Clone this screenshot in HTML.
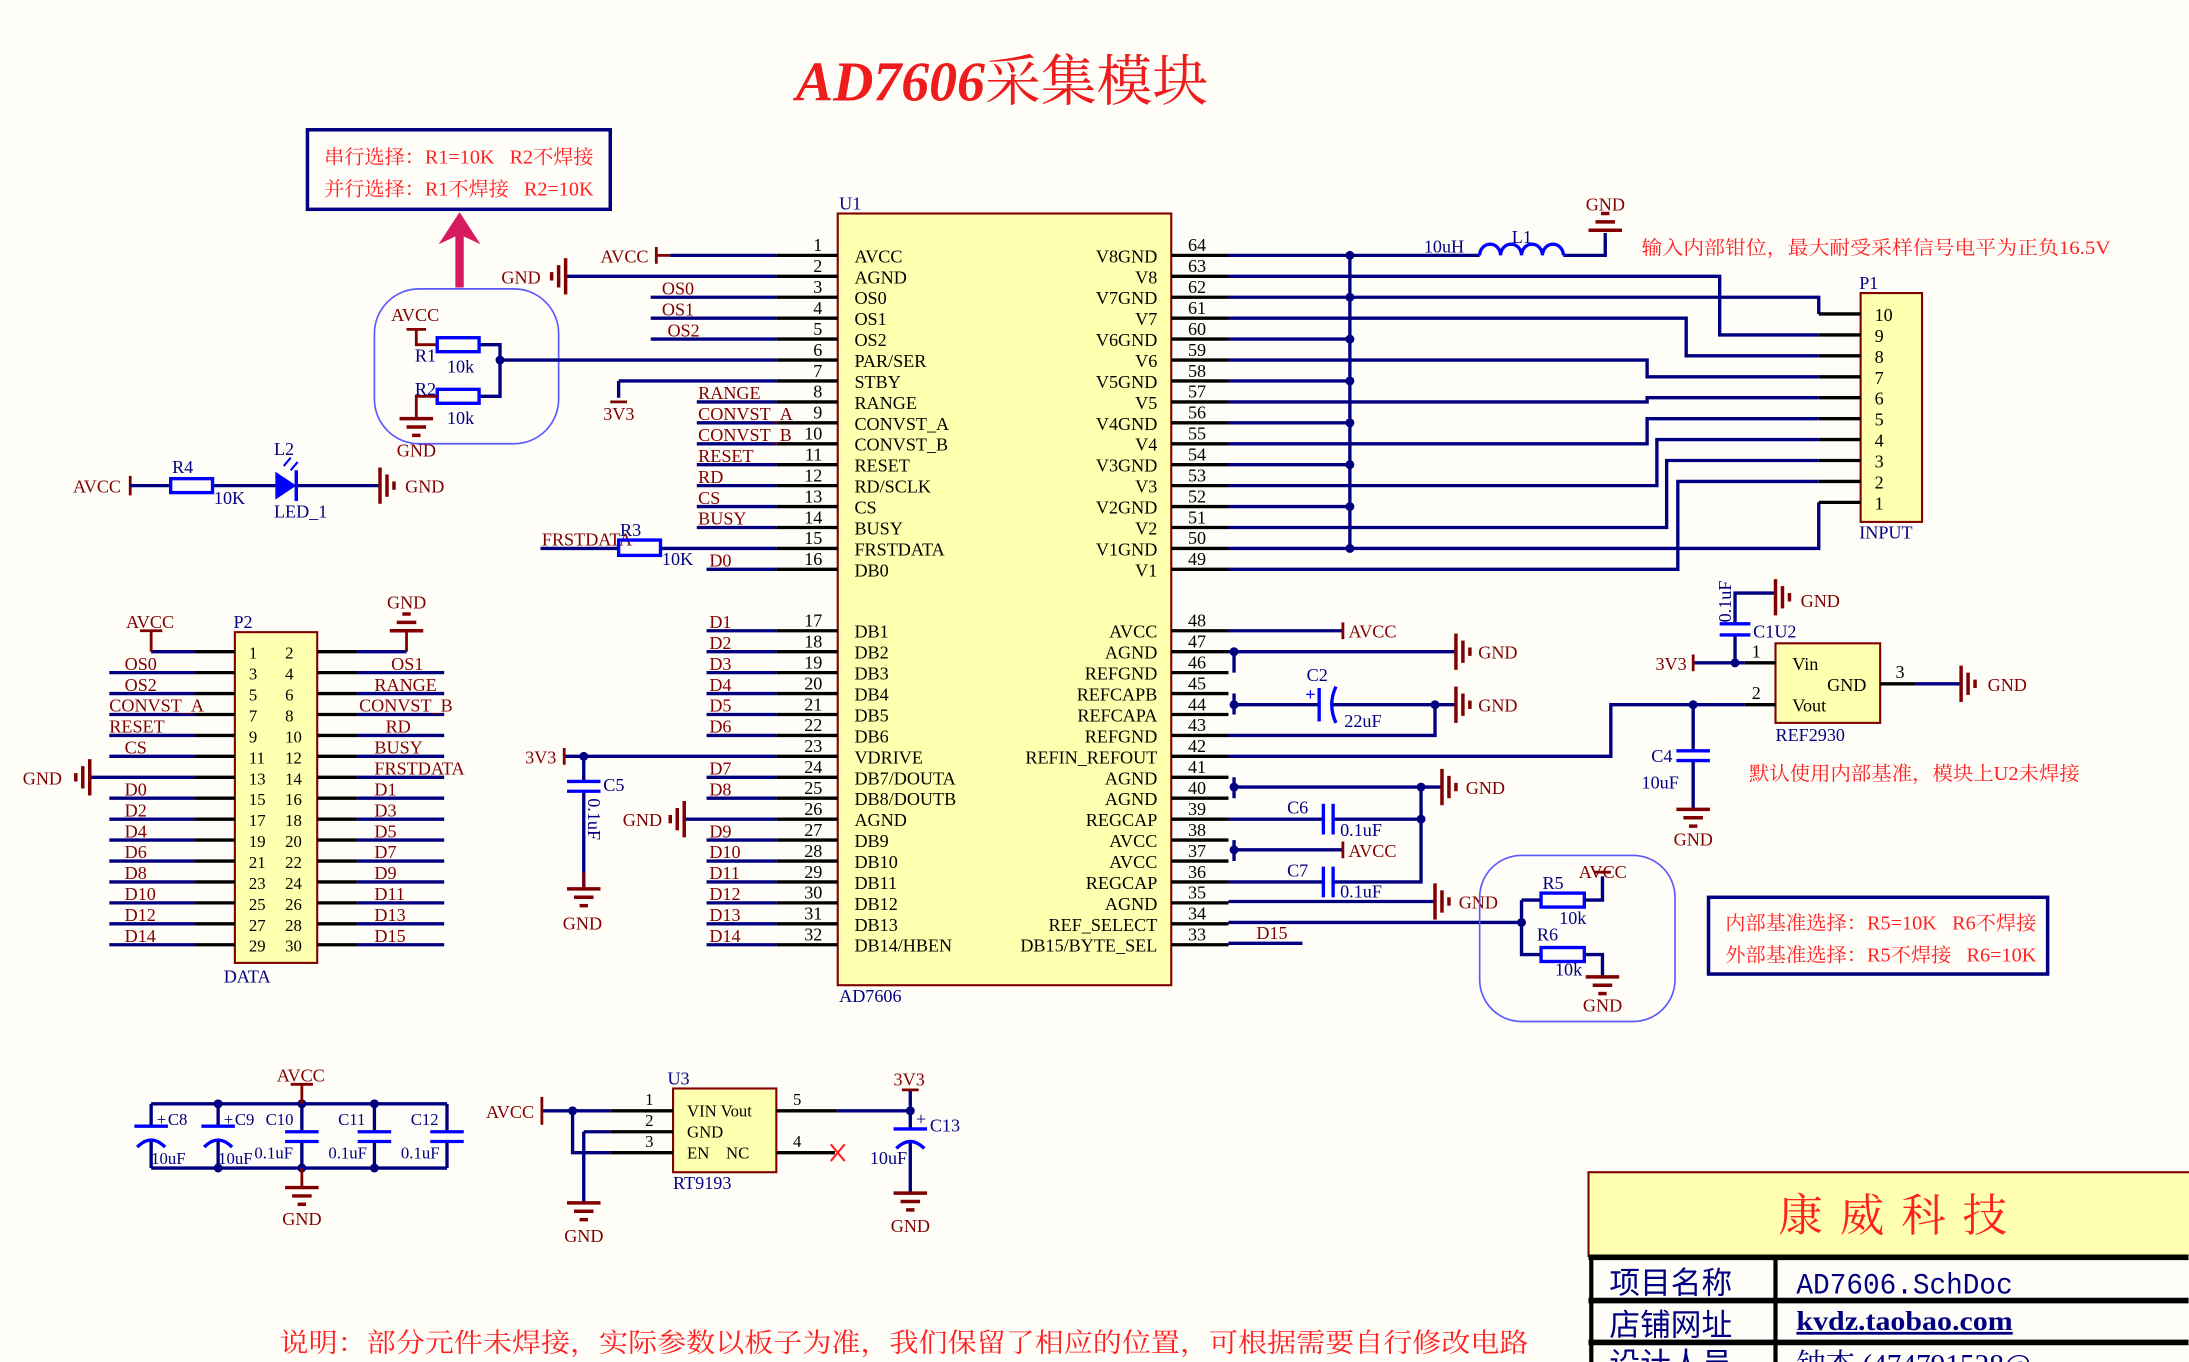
<!DOCTYPE html>
<html><head><meta charset="utf-8"><style>
html,body{margin:0;padding:0;background:#fffdf7;}
svg{display:block}
text{font-family:"Liberation Serif","Noto Serif CJK SC",serif;}
.w{stroke:#000080;stroke-width:2.4;fill:none}
.p{stroke:#000;stroke-width:2.4;fill:none}
.r{stroke:#800000;stroke-width:2;fill:none}
.b{stroke:#0000ff;stroke-width:2.4;fill:none}
.t{font-size:13px;fill:#000}
.n{font-size:13px;fill:#800000}
.c{font-size:13px;fill:#000080}
.red{font-family:"Liberation Serif","Noto Serif CJK SC",serif;fill:#ff2020}
</style></head><body>
<svg width="2189" height="1362" viewBox="0 0 1568 976" xmlns="http://www.w3.org/2000/svg">
<defs>
<g id="gD" stroke="#800000" stroke-width="2.5"><line x1="-12" y1="0" x2="12" y2="0"/><line x1="-7" y1="6" x2="7" y2="6"/><line x1="-3" y1="12" x2="3" y2="12"/></g>
<g id="gU" stroke="#800000" stroke-width="2.5"><line x1="-12" y1="0" x2="12" y2="0"/><line x1="-7" y1="-6" x2="7" y2="-6"/><line x1="-3" y1="-12" x2="3" y2="-12"/></g>
<g id="gL" stroke="#800000" stroke-width="2.5"><line x1="0" y1="-13" x2="0" y2="13"/><line x1="-5" y1="-8" x2="-5" y2="8"/><line x1="-10" y1="-3" x2="-10" y2="3"/></g>
<g id="gR" stroke="#800000" stroke-width="2.5"><line x1="0" y1="-13" x2="0" y2="13"/><line x1="5" y1="-8" x2="5" y2="8"/><line x1="10" y1="-3" x2="10" y2="3"/></g>
<circle id="j" r="3.2" fill="#000080"/>
</defs>

<!-- Title -->
<text x="570" y="72" style="font-size:40px;fill:#ee1c1c;font-weight:bold;font-style:italic">AD7606<tspan style="font-weight:normal;font-style:normal;font-family:'Noto Serif CJK SC',serif">采集模块</tspan></text>

<!-- top box -->
<rect x="220" y="93" width="217" height="57" fill="none" stroke="#000080" stroke-width="2.5"/>
<text x="232" y="117" class="red" style="font-size:14px" textLength="193" lengthAdjust="spacingAndGlyphs">串行选择：R1=10K&#160;&#160;&#160;R2不焊接</text>
<text x="232" y="140" class="red" style="font-size:14px" textLength="193" lengthAdjust="spacingAndGlyphs">并行选择：R1不焊接&#160;&#160;&#160;R2=10K</text>
<line x1="329" y1="206" x2="329" y2="168" stroke="#d81b60" stroke-width="6"/>
<polygon points="314,175 329,152 344,175 329,168" fill="#d81b60"/>

<!-- R1 R2 group -->
<rect x="268" y="207" width="132" height="111" rx="32" fill="none" stroke="#5a5aff" stroke-width="1.2"/>
<text x="280" y="230" class="n">AVCC</text>
<line x1="291" y1="236" x2="305" y2="236" class="r" stroke-width="3"/>
<path class="r" d="M298 236V247H313"/>
<path class="w" d="M343 247H358V284H343M358 258H556"/>
<rect x="313" y="242" width="30" height="10" class="b" fill="none"/>
<rect x="313" y="279" width="30" height="10" class="b" fill="none"/>
<path class="r" d="M313 284H298V300"/>
<use href="#gD" x="298" y="300"/>
<use href="#j" x="358" y="258"/>
<text x="297" y="259" class="c">R1</text><text x="320" y="267" class="c">10k</text>
<text x="297" y="283" class="c">R2</text><text x="320" y="304" class="c">10k</text>
<text x="284" y="327" class="n">GND</text>

<!-- LED row -->
<text x="52" y="353" class="n">AVCC</text>
<line x1="93" y1="341" x2="93" y2="355" class="r" stroke-width="2.5"/>
<path class="w" d="M93 348H122M152 348H197M212 348H272"/>
<rect x="122" y="343" width="30" height="10" class="b"/>
<polygon points="197,338 197,358 212,348" fill="#0000ff"/>
<line x1="212" y1="337" x2="212" y2="359" stroke="#0000ff" stroke-width="2.5"/>
<path d="M203 334l5-6M208 337l5-6" stroke="#0000ff" stroke-width="1.5"/>
<use href="#gR" x="272" y="348"/>
<text x="290" y="353" class="n">GND</text>
<text x="123" y="339" class="c">R4</text><text x="153" y="361" class="c">10K</text>
<text x="196" y="326" class="c">L2</text><text x="196" y="371" class="c">LED_1</text>

<!-- U1 -->
<rect x="600" y="153" width="239" height="553" fill="#ffffb0" stroke="#800000" stroke-width="1.5"/>
<text x="601" y="150" class="c">U1</text>
<text x="601" y="718" class="c">AD7606</text>
<path class="p" d="M556 183H600M556 198H600M556 213H600M556 228H600M556 243H600M556 258H600M556 273H600M556 288H600M556 303H600M556 318H600M556 333H600M556 348H600M556 363H600M556 378H600M556 393H600M556 408H600M556 452H600M556 467H600M556 482H600M556 497H600M556 512H600M556 527H600M556 542H600M556 557H600M556 572H600M556 587H600M556 602H600M556 617H600M556 632H600M556 647H600M556 662H600M556 677H600"/>
<path class="p" d="M839 183H880M839 198H880M839 213H880M839 228H880M839 243H880M839 258H880M839 273H880M839 288H880M839 303H880M839 318H880M839 333H880M839 348H880M839 363H880M839 378H880M839 393H880M839 408H880M839 452H880M839 467H880M839 482H880M839 497H880M839 512H880M839 527H880M839 542H880M839 557H880M839 572H880M839 587H880M839 602H880M839 617H880M839 632H880M839 647H880M839 662H880M839 677H880"/>
<g class="t" text-anchor="end">
<text x="589" y="180">1</text><text x="589" y="195">2</text><text x="589" y="210">3</text><text x="589" y="225">4</text><text x="589" y="240">5</text><text x="589" y="255">6</text><text x="589" y="270">7</text><text x="589" y="285">8</text><text x="589" y="300">9</text><text x="589" y="315">10</text><text x="589" y="330">11</text><text x="589" y="345">12</text><text x="589" y="360">13</text><text x="589" y="375">14</text><text x="589" y="390">15</text><text x="589" y="405">16</text>
<text x="589" y="449">17</text><text x="589" y="464">18</text><text x="589" y="479">19</text><text x="589" y="494">20</text><text x="589" y="509">21</text><text x="589" y="524">22</text><text x="589" y="539">23</text><text x="589" y="554">24</text><text x="589" y="569">25</text><text x="589" y="584">26</text><text x="589" y="599">27</text><text x="589" y="614">28</text><text x="589" y="629">29</text><text x="589" y="644">30</text><text x="589" y="659">31</text><text x="589" y="674">32</text>
</g>
<g class="t">
<text x="851" y="180">64</text><text x="851" y="195">63</text><text x="851" y="210">62</text><text x="851" y="225">61</text><text x="851" y="240">60</text><text x="851" y="255">59</text><text x="851" y="270">58</text><text x="851" y="285">57</text><text x="851" y="300">56</text><text x="851" y="315">55</text><text x="851" y="330">54</text><text x="851" y="345">53</text><text x="851" y="360">52</text><text x="851" y="375">51</text><text x="851" y="390">50</text><text x="851" y="405">49</text>
<text x="851" y="449">48</text><text x="851" y="464">47</text><text x="851" y="479">46</text><text x="851" y="494">45</text><text x="851" y="509">44</text><text x="851" y="524">43</text><text x="851" y="539">42</text><text x="851" y="554">41</text><text x="851" y="569">40</text><text x="851" y="584">39</text><text x="851" y="599">38</text><text x="851" y="614">37</text><text x="851" y="629">36</text><text x="851" y="644">35</text><text x="851" y="659">34</text><text x="851" y="674">33</text>
</g>
<g class="t">
<text x="612" y="188">AVCC</text><text x="612" y="203">AGND</text><text x="612" y="218">OS0</text><text x="612" y="233">OS1</text><text x="612" y="248">OS2</text><text x="612" y="263">PAR/SER</text><text x="612" y="278">STBY</text><text x="612" y="293">RANGE</text><text x="612" y="308">CONVST_A</text><text x="612" y="323">CONVST_B</text><text x="612" y="338">RESET</text><text x="612" y="353">RD/SCLK</text><text x="612" y="368">CS</text><text x="612" y="383">BUSY</text><text x="612" y="398">FRSTDATA</text><text x="612" y="413">DB0</text>
<text x="612" y="457">DB1</text><text x="612" y="472">DB2</text><text x="612" y="487">DB3</text><text x="612" y="502">DB4</text><text x="612" y="517">DB5</text><text x="612" y="532">DB6</text><text x="612" y="547">VDRIVE</text><text x="612" y="562">DB7/DOUTA</text><text x="612" y="577">DB8/DOUTB</text><text x="612" y="592">AGND</text><text x="612" y="607">DB9</text><text x="612" y="622">DB10</text><text x="612" y="637">DB11</text><text x="612" y="652">DB12</text><text x="612" y="667">DB13</text><text x="612" y="682">DB14/HBEN</text>
</g>
<g class="t" text-anchor="end">
<text x="829" y="188">V8GND</text><text x="829" y="203">V8</text><text x="829" y="218">V7GND</text><text x="829" y="233">V7</text><text x="829" y="248">V6GND</text><text x="829" y="263">V6</text><text x="829" y="278">V5GND</text><text x="829" y="293">V5</text><text x="829" y="308">V4GND</text><text x="829" y="323">V4</text><text x="829" y="338">V3GND</text><text x="829" y="353">V3</text><text x="829" y="368">V2GND</text><text x="829" y="383">V2</text><text x="829" y="398">V1GND</text><text x="829" y="413">V1</text>
<text x="829" y="457">AVCC</text><text x="829" y="472">AGND</text><text x="829" y="487">REFGND</text><text x="829" y="502">REFCAPB</text><text x="829" y="517">REFCAPA</text><text x="829" y="532">REFGND</text><text x="829" y="547">REFIN_REFOUT</text><text x="829" y="562">AGND</text><text x="829" y="577">AGND</text><text x="829" y="592">REGCAP</text><text x="829" y="607">AVCC</text><text x="829" y="622">AVCC</text><text x="829" y="637">REGCAP</text><text x="829" y="652">AGND</text><text x="829" y="667">REF_SELECT</text><text x="829" y="682">DB15/BYTE_SEL</text>
</g>

<!-- U1 left wiring -->
<path class="w" d="M480 183H556M405 198H556M466 213H556M466 228H556M466 243H556M443 273H556V273M443 273V285M499 288H556M499 303H556M499 318H556M499 333H556M499 348H556M499 363H556M499 378H556M387 393H443M473 393H556M506 408H556
M506 452H556M506 467H556M506 482H556M506 497H556M506 512H556M506 527H556M404 542H556M506 557H556M506 572H556M490 587H556M506 602H556M506 617H556M506 632H556M506 647H556M506 662H556M506 677H556"/>
<line x1="470" y1="177" x2="470" y2="189" class="r" stroke-width="2.5"/><line x1="470" y1="183" x2="480" y2="183" class="r" stroke-width="2.5"/>
<text x="430" y="188" class="n">AVCC</text>
<use href="#gL" x="405" y="198"/><text x="359" y="203" class="n">GND</text>
<line x1="437" y1="288" x2="449" y2="288" class="r" stroke-width="3"/>
<text x="432" y="301" class="n">3V3</text>
<g class="n">
<text x="474" y="211">OS0</text><text x="474" y="226">OS1</text><text x="478" y="241">OS2</text>
<text x="500" y="286">RANGE</text><text x="500" y="301">CONVST_A</text><text x="500" y="316">CONVST_B</text><text x="500" y="331">RESET</text><text x="500" y="346">RD</text><text x="500" y="361">CS</text><text x="500" y="376">BUSY</text>
<text x="388" y="391">FRSTDATA</text><text x="508" y="406">D0</text>
<text x="508" y="450">D1</text><text x="508" y="465">D2</text><text x="508" y="480">D3</text><text x="508" y="495">D4</text><text x="508" y="510">D5</text><text x="508" y="525">D6</text>
<text x="508" y="555">D7</text><text x="508" y="570">D8</text><text x="508" y="600">D9</text><text x="508" y="615">D10</text><text x="508" y="630">D11</text><text x="508" y="645">D12</text><text x="508" y="660">D13</text><text x="508" y="675">D14</text>
</g>
<rect x="443" y="387" width="30" height="11" class="b"/>
<text x="444" y="384" class="c">R3</text><text x="474" y="405" class="c">10K</text>
<!-- VDRIVE -->
<line x1="404" y1="536" x2="404" y2="548" class="r" stroke-width="2.5"/>
<text x="376" y="547" class="n">3V3</text>
<use href="#j" x="418" y="542"/>
<path class="w" d="M418 542V559M418 568V637"/>
<line x1="406" y1="560" x2="430" y2="560" class="b" stroke-width="3"/><line x1="406" y1="567" x2="430" y2="567" class="b" stroke-width="3"/>
<line x1="418" y1="625" x2="418" y2="637" class="r"/>
<use href="#gD" x="418" y="637"/>
<text x="432" y="567" class="c">C5</text>
<text transform="translate(421,572) rotate(90)" class="c">0.1uF</text>
<text x="403" y="666" class="n">GND</text>
<use href="#gL" x="490" y="587"/><text x="446" y="592" class="n">GND</text>

<!-- U1 right wiring top -->
<path class="w" d="M880 183H1060M1120 183H1150V167M967 183V393M880 243H967M880 273H967M880 303H967M880 333H967M880 363H967
M880 198H1232V240H1303M880 213H1303V225M880 228H1208V255H1303M880 258H1180V270H1303M880 288H1180V285H1303M880 318H1180V300H1303M880 348H1187V315H1303M880 378H1194V330H1303M880 393H1303V360M880 408H1202V345H1303"/>
<g><use href="#j" x="967" y="183"/><use href="#j" x="967" y="213"/><use href="#j" x="967" y="243"/><use href="#j" x="967" y="273"/><use href="#j" x="967" y="303"/><use href="#j" x="967" y="333"/><use href="#j" x="967" y="363"/><use href="#j" x="967" y="393"/></g>
<path d="M1060 183a7.5 8 0 0 1 15 0a7.5 8 0 0 1 15 0a7.5 8 0 0 1 15 0a7.5 8 0 0 1 15 0" class="b"/>
<use href="#gU" x="1150" y="165"/>
<text x="1136" y="151" class="n">GND</text>
<text x="1020" y="181" class="c">10uH</text><text x="1083" y="174" class="c">L1</text>
<text x="1176" y="182" class="red" style="font-size:13.5px" textLength="336" lengthAdjust="spacingAndGlyphs">输入内部钳位，最大耐受采样信号电平为正负16.5V</text>
<!-- P1 -->
<rect x="1333" y="210" width="44" height="164" fill="#ffffb0" stroke="#800000" stroke-width="1.5"/>
<path class="p" d="M1303 225H1333M1303 240H1333M1303 255H1333M1303 270H1333M1303 285H1333M1303 300H1333M1303 315H1333M1303 330H1333M1303 345H1333M1303 360H1333"/>
<g class="t"><text x="1343" y="230">10</text><text x="1343" y="245">9</text><text x="1343" y="260">8</text><text x="1343" y="275">7</text><text x="1343" y="290">6</text><text x="1343" y="305">5</text><text x="1343" y="320">4</text><text x="1343" y="335">3</text><text x="1343" y="350">2</text><text x="1343" y="365">1</text></g>
<text x="1332" y="207" class="c">P1</text><text x="1332" y="386" class="c">INPUT</text>

<!-- U1 right wiring bottom -->
<path class="w" d="M880 452H962M880 467H1043M884 467V482M884 497V512M884 505H945M953 505H1043M1028 505V527H880M880 542H1154V505H1250M1213 505V537M1213 545V580
M884 557V572M884 564H1033M880 587H947M955 587H1018M884 602V617M884 609H962M880 632H947M955 632H1018V564M880 646H1028M880 661H1090M1090 645V684H1104M1090 645H1104M880 676H933"/>
<line x1="962" y1="446" x2="962" y2="458" class="r" stroke-width="2.5"/><text x="966" y="457" class="n">AVCC</text>
<line x1="962" y1="603" x2="962" y2="615" class="r" stroke-width="2.5"/><text x="966" y="614" class="n">AVCC</text>
<use href="#gR" x="1043" y="467"/><text x="1059" y="472" class="n">GND</text>
<use href="#gR" x="1043" y="505"/><text x="1059" y="510" class="n">GND</text>
<use href="#gR" x="1033" y="564"/><text x="1050" y="569" class="n">GND</text>
<use href="#gR" x="1028" y="646"/><text x="1045" y="651" class="n">GND</text>
<g><use href="#j" x="884" y="467"/><use href="#j" x="884" y="505"/><use href="#j" x="1028" y="505"/><use href="#j" x="884" y="564"/><use href="#j" x="1018" y="564"/><use href="#j" x="1018" y="587"/><use href="#j" x="884" y="609"/><use href="#j" x="1090" y="661"/><use href="#j" x="1213" y="505"/></g>
<!-- C2 -->
<line x1="945" y1="493" x2="945" y2="517" class="b" stroke-width="2.5"/>
<path d="M957 492q-6 13 0 26" class="b" stroke-width="2"/>
<text x="935" y="502" style="font-size:13px;fill:#0000ff;font-weight:bold">+</text>
<text x="936" y="488" class="c">C2</text><text x="963" y="521" class="c">22uF</text>
<!-- C6 C7 -->
<line x1="948" y1="576" x2="948" y2="598" class="b" stroke-width="3"/><line x1="955" y1="576" x2="955" y2="598" class="b" stroke-width="3"/>
<line x1="948" y1="621" x2="948" y2="643" class="b" stroke-width="3"/><line x1="955" y1="621" x2="955" y2="643" class="b" stroke-width="3"/>
<text x="922" y="583" class="c">C6</text><text x="960" y="599" class="c">0.1uF</text>
<text x="922" y="628" class="c">C7</text><text x="960" y="643" class="c">0.1uF</text>
<text x="900" y="673" class="n">D15</text>
<!-- C4 -->
<line x1="1201" y1="538" x2="1225" y2="538" class="b" stroke-width="3"/><line x1="1201" y1="545" x2="1225" y2="545" class="b" stroke-width="3"/>
<use href="#gD" x="1213" y="580"/>
<text x="1183" y="546" class="c">C4</text><text x="1176" y="565" class="c">10uF</text>
<text x="1199" y="606" class="n">GND</text>
<!-- R5 R6 -->
<rect x="1060" y="613" width="140" height="119" rx="30" fill="none" stroke="#5a5aff" stroke-width="1.2"/>
<rect x="1104" y="640" width="31" height="10" class="b"/><rect x="1104" y="679" width="31" height="10" class="b"/>
<path class="w" d="M1135 645H1148V628M1135 684H1148V700"/>
<line x1="1142" y1="625" x2="1154" y2="625" class="r" stroke-width="3"/>
<use href="#gD" x="1148" y="700"/>
<text x="1131" y="629" class="n">AVCC</text><text x="1134" y="725" class="n">GND</text>
<text x="1105" y="637" class="c">R5</text><text x="1117" y="662" class="c">10k</text>
<text x="1101" y="674" class="c">R6</text><text x="1114" y="699" class="c">10k</text>
<rect x="1224" y="643" width="243" height="55" fill="none" stroke="#000080" stroke-width="2.5"/>
<text x="1236" y="666" class="red" style="font-size:14px" textLength="223" lengthAdjust="spacingAndGlyphs">内部基准选择：R5=10K&#160;&#160;&#160;R6不焊接</text>
<text x="1236" y="689" class="red" style="font-size:14px" textLength="223" lengthAdjust="spacingAndGlyphs">外部基准选择：R5不焊接&#160;&#160;&#160;R6=10K</text>
<!-- U2 -->
<rect x="1272" y="461" width="75" height="57" fill="#ffffb0" stroke="#800000" stroke-width="1.5"/>
<path class="p" d="M1250 475H1272M1250 505H1272M1347 490H1372"/>
<path class="w" d="M1213 475H1250M1243 475V456M1243 447V425H1272M1372 490H1405"/>
<line x1="1213" y1="469" x2="1213" y2="481" class="r" stroke-width="2.5"/>
<use href="#j" x="1243" y="475"/>
<line x1="1232" y1="447" x2="1254" y2="447" class="b" stroke-width="3"/><line x1="1232" y1="455" x2="1254" y2="455" class="b" stroke-width="3"/>
<use href="#gR" x="1272" y="428"/><text x="1290" y="435" class="n">GND</text>
<use href="#gR" x="1405" y="490"/><text x="1424" y="495" class="n">GND</text>
<text x="1186" y="480" class="n">3V3</text>
<text transform="translate(1240,446) rotate(-90)" class="c">0.1uF</text>
<text x="1256" y="457" class="c">C1U2</text>
<text x="1255" y="471" class="t">1</text><text x="1255" y="501" class="t">2</text><text x="1358" y="486" class="t">3</text>
<text x="1284" y="480" class="t">Vin</text><text x="1309" y="495" class="t">GND</text><text x="1284" y="510" class="t">Vout</text>
<text x="1272" y="531" class="c">REF2930</text>
<text x="1253" y="559" class="red" style="font-size:14px" textLength="237" lengthAdjust="spacingAndGlyphs">默认使用内部基准，模块上U2未焊接</text>

<!-- P2 -->
<rect x="168" y="453" width="59" height="237" fill="#ffffb0" stroke="#800000" stroke-width="1.5"/>
<text x="167" y="450" class="c">P2</text><text x="160" y="704" class="c">DATA</text>
<path class="p" d="M139 467H168M139 482H168M139 497H168M139 512H168M139 527H168M139 542H168M139 557H168M139 572H168M139 587H168M139 602H168M139 617H168M139 632H168M139 647H168M139 662H168M139 677H168
M227 467H256M227 482H256M227 497H256M227 512H256M227 527H256M227 542H256M227 557H256M227 572H256M227 587H256M227 602H256M227 617H256M227 632H256M227 647H256M227 662H256M227 677H256"/>
<path class="w" d="M108 467H139M78 482H139M78 497H139M78 512H139M78 527H139M78 542H139M64 557H139M78 572H139M78 587H139M78 602H139M78 617H139M78 632H139M78 647H139M78 662H139M78 677H139
M256 467H291M256 482H318M256 497H318M256 512H318M256 527H318M256 542H318M256 557H318M256 572H318M256 587H318M256 602H318M256 617H318M256 632H318M256 647H318M256 662H318M256 677H318"/>
<path class="r" d="M108 467V452M291 467V452"/>
<line x1="100" y1="452" x2="116" y2="452" class="r" stroke-width="3"/>
<use href="#gU" x="291" y="452"/>
<use href="#gL" x="64" y="557"/>
<text x="90" y="450" class="n">AVCC</text><text x="277" y="436" class="n">GND</text><text x="16" y="562" class="n">GND</text>
<g class="t" style="font-size:12px">
<text x="178" y="472">1</text><text x="178" y="487">3</text><text x="178" y="502">5</text><text x="178" y="517">7</text><text x="178" y="532">9</text><text x="178" y="547">11</text><text x="178" y="562">13</text><text x="178" y="577">15</text><text x="178" y="592">17</text><text x="178" y="607">19</text><text x="178" y="622">21</text><text x="178" y="637">23</text><text x="178" y="652">25</text><text x="178" y="667">27</text><text x="178" y="682">29</text>
<text x="204" y="472">2</text><text x="204" y="487">4</text><text x="204" y="502">6</text><text x="204" y="517">8</text><text x="204" y="532">10</text><text x="204" y="547">12</text><text x="204" y="562">14</text><text x="204" y="577">16</text><text x="204" y="592">18</text><text x="204" y="607">20</text><text x="204" y="622">22</text><text x="204" y="637">24</text><text x="204" y="652">26</text><text x="204" y="667">28</text><text x="204" y="682">30</text>
</g>
<g class="n">
<text x="89" y="480">OS0</text><text x="89" y="495">OS2</text><text x="78" y="510">CONVST_A</text><text x="78" y="525">RESET</text><text x="89" y="540">CS</text>
<text x="89" y="570">D0</text><text x="89" y="585">D2</text><text x="89" y="600">D4</text><text x="89" y="615">D6</text><text x="89" y="630">D8</text><text x="89" y="645">D10</text><text x="89" y="660">D12</text><text x="89" y="675">D14</text>
<text x="280" y="480">OS1</text><text x="268" y="495">RANGE</text><text x="257" y="510">CONVST_B</text><text x="276" y="525">RD</text><text x="268" y="540">BUSY</text><text x="268" y="555">FRSTDATA</text>
<text x="268" y="570">D1</text><text x="268" y="585">D3</text><text x="268" y="600">D5</text><text x="268" y="615">D7</text><text x="268" y="630">D9</text><text x="268" y="645">D11</text><text x="268" y="660">D13</text><text x="268" y="675">D15</text>
</g>

<!-- Decoupling caps -->
<path class="w" d="M108 791H320M108 837H320M108 791V806M108 818V837M156 791V806M156 818V837M216 791V810M216 818V837M268 791V810M268 818V837M320 791V810M320 818V837"/>
<g class="b" stroke-width="3">
<line x1="96" y1="807" x2="120" y2="807"/><line x1="144" y1="807" x2="168" y2="807"/>
<line x1="204" y1="811" x2="228" y2="811"/><line x1="204" y1="818" x2="228" y2="818"/>
<line x1="256" y1="811" x2="280" y2="811"/><line x1="256" y1="818" x2="280" y2="818"/>
<line x1="308" y1="811" x2="332" y2="811"/><line x1="308" y1="818" x2="332" y2="818"/>
</g>
<path d="M98 822q10-10 20 0M146 822q10-10 20 0" class="b" stroke-width="2.5"/>
<g><use href="#j" x="156" y="791"/><use href="#j" x="216" y="791"/><use href="#j" x="268" y="791"/><use href="#j" x="156" y="837"/><use href="#j" x="216" y="837"/><use href="#j" x="268" y="837"/></g>
<path class="r" d="M216 791V777M216 837V851"/>
<line x1="208" y1="777" x2="224" y2="777" class="r" stroke-width="3"/>
<use href="#gD" x="216" y="851"/>
<text x="198" y="775" class="n">AVCC</text><text x="202" y="878" class="n">GND</text>
<g class="c" style="font-size:12px">
<text x="112" y="806">+</text><text x="120" y="806">C8</text><text x="160" y="806">+</text><text x="168" y="806">C9</text><text x="190" y="806">C10</text><text x="242" y="806">C11</text><text x="294" y="806">C12</text>
<text x="108" y="834">10uF</text><text x="156" y="834">10uF</text><text x="182" y="830">0.1uF</text><text x="235" y="830">0.1uF</text><text x="287" y="830">0.1uF</text>
</g>

<!-- U3 -->
<rect x="482" y="780" width="74" height="60" fill="#ffffb0" stroke="#800000" stroke-width="1.5"/>
<text x="478" y="777" class="c">U3</text><text x="482" y="852" class="c">RT9193</text>
<path class="p" d="M437 796H482M437 811H482M437 826H482M556 796H600M556 826H598"/>
<path class="w" d="M388 796H437M410 796V826H437M418 811H437M418 811V862M600 796H652M652 781V808M652 818V855"/>
<line x1="388" y1="786" x2="388" y2="806" class="r" stroke-width="2.5"/>
<use href="#j" x="410" y="796"/><use href="#j" x="652" y="796"/>
<use href="#gD" x="418" y="862"/><use href="#gD" x="652" y="855"/>
<line x1="646" y1="781" x2="658" y2="781" class="r" stroke-width="3"/>
<line x1="640" y1="809" x2="664" y2="809" class="b" stroke-width="3"/>
<path d="M642 823q10-10 20 0" class="b" stroke-width="2.5"/>
<path d="M595 820l10 12M605 820l-10 12" stroke="#ff2020" stroke-width="1.5"/>
<text x="348" y="801" class="n">AVCC</text><text x="404" y="890" class="n">GND</text><text x="640" y="778" class="n">3V3</text><text x="638" y="883" class="n">GND</text>
<text x="656" y="806" class="c">+</text><text x="666" y="811" class="c">C13</text><text x="623" y="834" class="c">10uF</text>
<g class="t" style="font-size:12px"><text x="462" y="792">1</text><text x="462" y="807">2</text><text x="462" y="822">3</text><text x="568" y="792">5</text><text x="568" y="822">4</text>
<text x="492" y="800">VIN Vout</text><text x="492" y="815">GND</text><text x="492" y="830">EN&#160;&#160;&#160;&#160;NC</text></g>

<!-- bottom note -->
<text x="200" y="969" class="red" style="font-size:19px" textLength="895" lengthAdjust="spacingAndGlyphs">说明：部分元件未焊接，实际参数以板子为准，我们保留了相应的位置，可根据需要自行修改电路</text>

<!-- title block -->
<rect x="1138" y="840" width="432" height="60" fill="#ffffb0" stroke="#800000" stroke-width="1.5"/>
<text x="1362" y="882" text-anchor="middle" class="red" style="font-size:32px;letter-spacing:12px">康威科技</text>
<rect x="1138" y="899" width="432" height="80" fill="#fffdf7"/>
<path d="M1138 901H1568M1138 932H1568M1138 962H1568" stroke="#000" stroke-width="4"/>
<path d="M1140 899V976M1272 899V976" stroke="#000" stroke-width="3"/>
<text x="1153" y="927" style="font-size:22px;fill:#000080;font-family:'Noto Sans CJK SC',sans-serif">项目名称</text>
<text x="1287" y="927" style="font-size:21px;fill:#000080;font-family:'Liberation Mono',monospace" textLength="155" lengthAdjust="spacingAndGlyphs">AD7606.SchDoc</text>
<text x="1153" y="957" style="font-size:22px;fill:#000080;font-family:'Noto Sans CJK SC',sans-serif">店铺网址</text>
<text x="1287" y="953" style="font-size:20px;fill:#000080;font-weight:bold;text-decoration:underline" textLength="155" lengthAdjust="spacingAndGlyphs">kvdz.taobao.com</text>
<text x="1153" y="985" style="font-size:22px;fill:#000080;font-family:'Noto Sans CJK SC',sans-serif">设计人员</text>
<text x="1287" y="985" style="font-size:21px;fill:#000080">钟杰 (474791528@</text>
</svg>
</body></html>
